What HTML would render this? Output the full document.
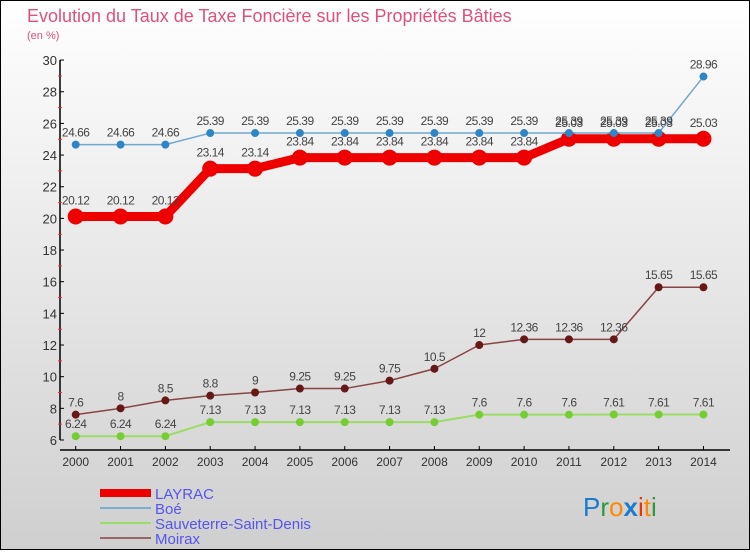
<!DOCTYPE html>
<html><head><meta charset="utf-8"><style>
body{margin:0;width:750px;height:550px;overflow:hidden;font-family:"Liberation Sans",sans-serif}
svg text{font-family:"Liberation Sans",sans-serif}
</style></head><body>
<svg id="c" width="750" height="550" xmlns="http://www.w3.org/2000/svg">
<defs><linearGradient id="bg" x1="0" y1="0" x2="0" y2="1"><stop offset="0" stop-color="#ffffff"/><stop offset="1" stop-color="#cfcfcf"/></linearGradient></defs>
<rect x="0.5" y="0.5" width="749" height="549" fill="url(#bg)" stroke="#000"/>
<text x="27" y="22" font-size="18" fill="#e0507a">Evolution du Taux de Taxe Foncière sur les Propriétés Bâties</text>
<text x="27" y="39" font-size="11" fill="#e0507a">(en %)</text>
<g id="axes"></g><g id="series"></g>
<g>
<line x1="100" y1="493" x2="151" y2="493" stroke="#ee0000" stroke-width="8"/>
<text x="155" y="499" font-size="15" fill="#5555ee">LAYRAC</text>
<line x1="100" y1="508" x2="151" y2="508" stroke="#7aaed0" stroke-width="2"/>
<text x="155" y="514" font-size="15" fill="#5555ee">Boé</text>
<line x1="100" y1="523" x2="151" y2="523" stroke="#99dd66" stroke-width="2"/>
<text x="155" y="529" font-size="15" fill="#5555ee">Sauveterre-Saint-Denis</text>
<line x1="100" y1="538" x2="151" y2="538" stroke="#996666" stroke-width="2"/>
<text x="155" y="544" font-size="15" fill="#5555ee">Moirax</text>
</g>
<g font-size="26" font-family="'Liberation Sans',sans-serif">
<text x="583" y="516"><tspan fill="#1a7acc">P</tspan><tspan fill="#2a9a3a">r</tspan><tspan fill="#ff8800">o</tspan><tspan fill="#1a7acc" font-weight="bold">x</tspan><tspan fill="#ee3300">i</tspan><tspan fill="#ff8800">t</tspan><tspan fill="#2a9a3a">i</tspan></text>
</g>
</svg>
<script>
const years=[2000,2001,2002,2003,2004,2005,2006,2007,2008,2009,2010,2011,2012,2013,2014];
const layrac=[20.12,20.12,20.12,23.14,23.14,23.84,23.84,23.84,23.84,23.84,23.84,25.03,25.03,25.03,25.03];
const boe=[24.66,24.66,24.66,25.39,25.39,25.39,25.39,25.39,25.39,25.39,25.39,25.39,25.39,25.39,28.96];
const sauveterre=[6.24,6.24,6.24,7.13,7.13,7.13,7.13,7.13,7.13,7.6,7.6,7.6,7.61,7.61,7.61];
const moirax=[7.6,8,8.5,8.8,9,9.25,9.25,9.75,10.5,12,12.36,12.36,12.36,15.65,15.65];
const yTicks=[6,8,10,12,14,16,18,20,22,24,26,28,30];
const NS="http://www.w3.org/2000/svg";
const x=i=>75.7+i*44.84;
const y=v=>440-(v-6)*15.83;
function mk(p,t,a){const e=document.createElementNS(NS,t);for(const k in a)e.setAttribute(k,a[k]);p.appendChild(e);return e;}
const ax=document.getElementById('axes');
let e=mk(ax,'line',{x1:60,y1:60,x2:60,y2:440,stroke:'#000','stroke-width':1.5});


e=mk(ax,'line',{x1:60,y1:450,x2:730,y2:450,stroke:'#000','stroke-width':1.5});


yTicks.forEach(v=>{
 mk(ax,'line',{x1:60,y1:y(v),x2:64,y2:y(v),stroke:'#000'});
 if(v<30)mk(ax,'line',{x1:58,y1:y(v+1),x2:62,y2:y(v+1),stroke:'#e33'});
 const t=mk(ax,'text',{x:57,y:y(v)+5,'text-anchor':'end','font-size':13,fill:'#333'});
 t.textContent=v;
 
 
});
years.forEach((yr,i)=>{
 mk(ax,'line',{x1:x(i),y1:446,x2:x(i),y2:450,stroke:'#000'});
 const t=mk(ax,'text',{x:x(i),y:466,'text-anchor':'middle','font-size':12,fill:'#333'});
 t.textContent=yr;
 
 
});
const sg=document.getElementById('series');
function series(name,data,color,dot,w,r,off){
 const g=mk(sg,'g',{});
 
 
 const pl=mk(g,'polyline',{points:data.map((v,i)=>x(i)+','+y(v)).join(' '),fill:'none',stroke:color,'stroke-width':w,'stroke-linejoin':'round'});
 
 
 data.forEach((v,i)=>{
  const c=mk(g,'circle',{cx:x(i),cy:y(v),r:r,fill:dot});
  
  
  const t=mk(g,'text',{x:x(i),y:y(v)-off,'text-anchor':'middle','font-size':12,fill:'#444','letter-spacing':'-0.5'});
  t.textContent=v;
  
  
 });
}
series('moirax',moirax,'#884444','#661818',1.5,4,8);
series('sauveterre',sauveterre,'#99dd66','#77cc33',2,4,8);
series('layrac',layrac,'#ee0000','#ee0000',9,8,12);
series('boe',boe,'#6fa8d0','#2f85c5',1.5,4,8);
</script>
</body></html>
